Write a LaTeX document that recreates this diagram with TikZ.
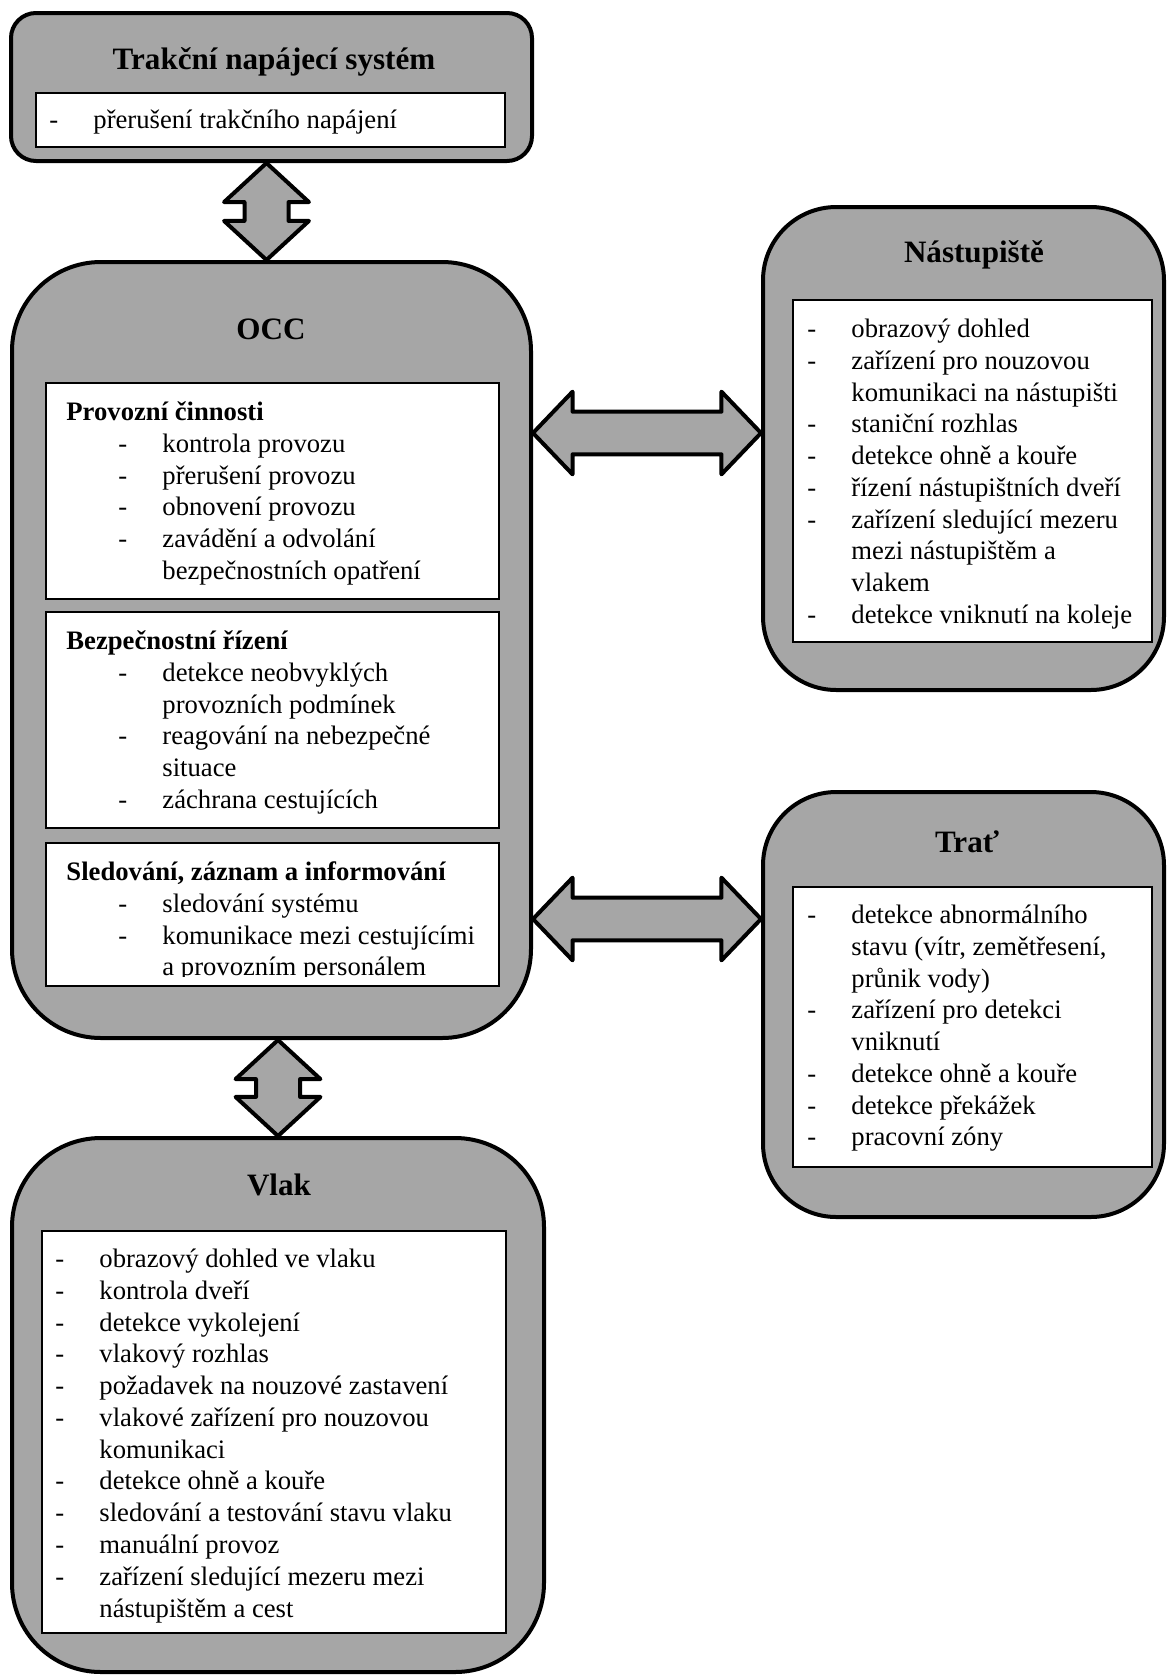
\documentclass[tikz,border=0pt]{standalone}
\usepackage{fontspec}
\setmainfont{Liberation Serif}
\usetikzlibrary{fit,calc}
\definecolor{boxgray}{RGB}{166,166,166}
\newcommand\li[1]{\strut\makebox[19.8pt][l]{-}#1}
\newcommand\lc[1]{\strut\hspace*{19.8pt}#1}
\newcommand\oli[1]{\strut\hspace*{23.4pt}\makebox[19.8pt][l]{-}#1}
\newcommand\olc[1]{\strut\hspace*{43.2pt}#1}
\newcommand\hd[1]{\strut\textbf{#1}}
\newcommand\vdarrow[2]{%
  \draw[blockarrow] let \p1=#1, \p2=#2 in
    (\x1,\y1) -- (\x1+19.1pt,\y1-17.6pt) -- (\x1+9.9pt,\y1-17.6pt) -- (\x1+9.9pt,\y2+17.6pt)
    -- (\x1+19.1pt,\y2+17.6pt) -- (\x1,\y2) -- (\x1-19.1pt,\y2+17.6pt) -- (\x1-9.9pt,\y2+17.6pt)
    -- (\x1-9.9pt,\y1-17.6pt) -- (\x1-19.1pt,\y1-17.6pt) -- cycle;}
\newcommand\hdarrow[2]{%
  \draw[blockarrow] let \p1=#1, \p2=#2 in
    (\x1,\y1) -- (\x1+17.8pt,\y1+18.6pt) -- (\x1+17.8pt,\y1+9.6pt) -- (\x2-17.8pt,\y1+9.6pt)
    -- (\x2-17.8pt,\y1+18.6pt) -- (\x2,\y1) -- (\x2-17.8pt,\y1-18.6pt) -- (\x2-17.8pt,\y1-9.6pt)
    -- (\x1+17.8pt,\y1-9.6pt) -- (\x1+17.8pt,\y1-18.6pt) -- cycle;}
\begin{document}
\begin{tikzpicture}[x=0.45pt,y=-0.45pt,
  outerbox/.style={draw=black, line width=1.8pt, fill=boxgray, inner sep=0pt},
  innerbox/.style={draw=black, line width=0.6pt, fill=white, inner sep=0pt},
  titletext/.style={font=\fontsize{14}{16}\selectfont\bfseries, anchor=base, inner sep=0pt},
  listtext/.style={font=\fontsize{12}{14.3}\selectfont, align=left, anchor=north west, inner sep=0pt},
  blockarrow/.style={draw=black, line width=1.8pt, fill=boxgray, line join=round}
]
\useasboundingbox (0,0) rectangle (1166,1675);

% outer boxes
\node[outerbox, rounded corners=11.25pt, fit={(11,13) (532,161)}] (tns) {};
\node[outerbox, rounded corners=40pt, fit={(12,262) (531,1038)}] (occ) {};
\node[outerbox, rounded corners=33pt, fit={(763,207) (1164,690)}] (nas) {};
\node[outerbox, rounded corners=33pt, fit={(763,792) (1164,1217)}] (trat) {};
\node[outerbox, rounded corners=40pt, fit={(12,1138) (544,1672)}] (vlak) {};

% inner boxes
\node[innerbox, fit={(36,93) (505,147)}] (tnsin) {};
\node[innerbox, fit={(46,383) (499,599)}] (occa) {};
\node[innerbox, fit={(46,612) (499,828)}] (occb) {};
\node[innerbox, fit={(46,843) (499,986)}] (occc) {};
\node[innerbox, fit={(793,300) (1152,642)}] (nasin) {};
\node[innerbox, fit={(793,887) (1152,1167)}] (tratin) {};
\node[innerbox, fit={(42,1231) (506,1633)}] (vlakin) {};

% titles
\node[titletext] (tnsT) at (274,69) {Trakční napájecí systém};
\node[titletext] (occT) at (271,339) {OCC};
\node[titletext] (nasT) at (974,262) {Nástupiště};
\node[titletext] (tratT) at (967,852) {Trať};
\node[titletext] (vlakT) at (279,1195) {Vlak};

% lists
\node[listtext] (tnsL) at (49,105.8) {\li{přerušení trakčního napájení}};

\node[listtext] (occaL) at (66,397.8) {\hd{Provozní činnosti}\\
\oli{kontrola provozu}\\
\oli{přerušení provozu}\\
\oli{obnovení provozu}\\
\oli{zavádění a odvolání}\\
\olc{bezpečnostních opatření}};

\node[listtext] (occbL) at (66,626.8) {\hd{Bezpečnostní řízení}\\
\oli{detekce neobvyklých}\\
\olc{provozních podmínek}\\
\oli{reagování na nebezpečné}\\
\olc{situace}\\
\oli{záchrana cestujících}};

\begin{scope}
\clip (46,843) rectangle (499,976);
\node[listtext] (occcL) at (66,857.8) {\hd{Sledování, záznam a informování}\\
\oli{sledování systému}\\
\oli{komunikace mezi cestujícími}\\
\olc{a provozním personálem}};
\end{scope}

\node[listtext] (nasL) at (807,314.8) {\li{obrazový dohled}\\
\li{zařízení pro nouzovou}\\
\lc{komunikaci na nástupišti}\\
\li{staniční rozhlas}\\
\li{detekce ohně a kouře}\\
\li{řízení nástupištních dveří}\\
\li{zařízení sledující mezeru}\\
\lc{mezi nástupištěm a}\\
\lc{vlakem}\\
\li{detekce vniknutí na koleje}};

\node[listtext] (tratL) at (807,900.8) {\li{detekce abnormálního}\\
\lc{stavu (vítr, zemětřesení,}\\
\lc{průnik vody)}\\
\li{zařízení pro detekci}\\
\lc{vniknutí}\\
\li{detekce ohně a kouře}\\
\li{detekce překážek}\\
\li{pracovní zóny}};

\node[listtext] (vlakL) at (55,1244.8) {\li{obrazový dohled ve vlaku}\\
\li{kontrola dveří}\\
\li{detekce vykolejení}\\
\li{vlakový rozhlas}\\
\li{požadavek na nouzové zastavení}\\
\li{vlakové zařízení pro nouzovou}\\
\lc{komunikaci}\\
\li{detekce ohně a kouře}\\
\li{sledování a testování stavu vlaku}\\
\li{manuální provoz}\\
\li{zařízení sledující mezeru mezi}\\
\lc{nástupištěm a cest}};

% connectors (block double arrows)
\coordinate (ya) at (0,433);
\coordinate (yb) at (0,919);
\vdarrow{($(tns.south)+(-5,0)$)}{($(occ.north)+(-5,0)$)}
\vdarrow{(occ.south -| vlak.north)}{(vlak.north)}
\hdarrow{(occ.east |- ya)}{(nas.west |- ya)}
\hdarrow{(occ.east |- yb)}{(trat.west |- yb)}
\end{tikzpicture}
\end{document}
